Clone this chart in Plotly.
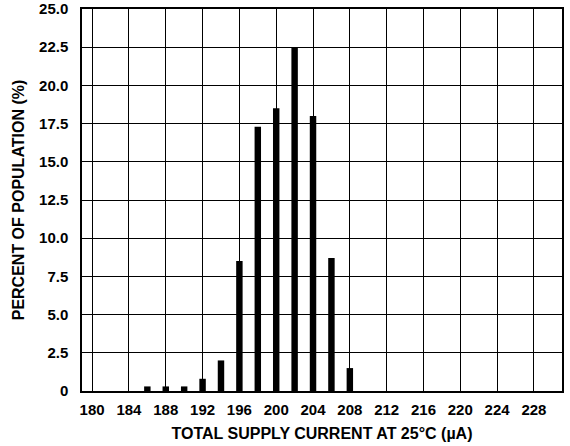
import plotly.graph_objects as go

# histogram of supply current
current_ua = [186, 188, 190, 192, 194, 196, 198, 200, 202, 204, 206, 208]
percent = [0.3, 0.3, 0.3, 0.8, 2.0, 8.5, 17.3, 18.5, 22.5, 18.0, 8.7, 1.5]

x_ticks = list(range(180, 229, 4))
y_ticks = [0, 2.5, 5, 7.5, 10, 12.5, 15, 17.5, 20, 22.5, 25]
y_ticktext = ["0", "2.5", "5.0", "7.5", "10.0", "12.5", "15.0", "17.5", "20.0", "22.5", "25.0"]

tick_fnt = dict(family="Liberation Sans, Arial", size=15, color="black", weight="bold")
title_fnt = dict(family="Liberation Sans, Arial", size=16, color="black", weight="bold")

fig = go.Figure()
fig.add_trace(go.Bar(x=current_ua, y=percent, width=0.7,
                     marker=dict(color="black", line=dict(width=0))))

fig.update_layout(
    width=570, height=446,
    margin=dict(l=82, r=8, t=9, b=55),
    plot_bgcolor="white", paper_bgcolor="white",
    showlegend=False,
    font=tick_fnt,
)
fig.update_xaxes(range=[178.9, 231.05], tickvals=x_ticks, tickfont=tick_fnt,
                 showgrid=True, gridcolor="black", gridwidth=1,
                 showline=True, linecolor="black", linewidth=1.5, mirror=True,
                 ticks="", ticklabelstandoff=4, zeroline=False, automargin=False,
                 title=dict(text="TOTAL SUPPLY CURRENT AT 25°C (µA)", font=title_fnt, standoff=11))
fig.update_yaxes(range=[0, 25], tickvals=y_ticks, ticktext=y_ticktext, tickfont=tick_fnt,
                 showgrid=True, gridcolor="black", gridwidth=1,
                 showline=True, linecolor="black", linewidth=1.5, mirror=True,
                 ticks="", ticklabelstandoff=9, zeroline=False, automargin=False,
                 title=dict(text="PERCENT OF POPULATION (%)", font=title_fnt, standoff=10))

# page body has an 8px default margin, drop it so the figure sits at 0,0
fig.write_html("out.html", config={"displayModeBar": False},
               post_script="document.body.style.margin='0';document.body.style.overflow='hidden';")
